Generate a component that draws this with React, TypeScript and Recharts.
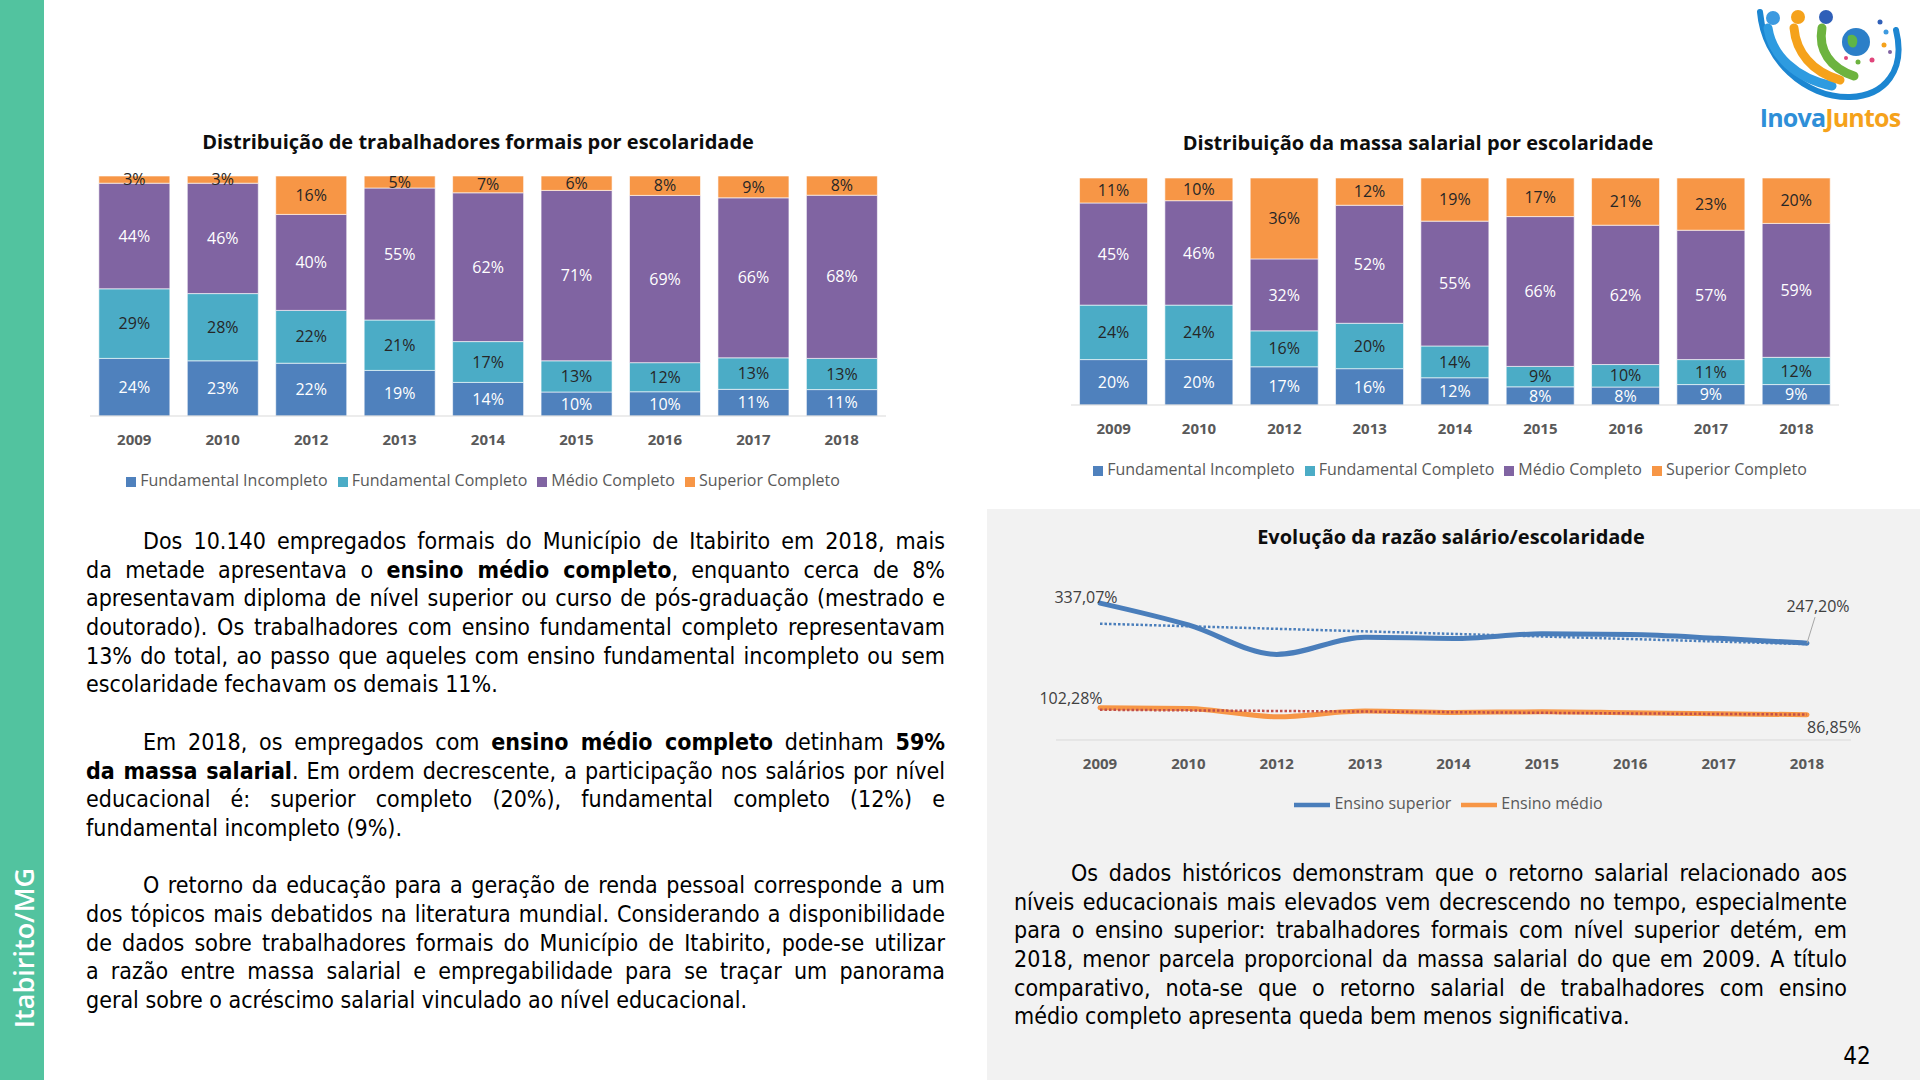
import React from 'react';
import {
    BarChart, Bar, LineChart, Line, XAxis, YAxis, Legend, LabelList, ReferenceLine,
} from 'recharts';

// anos das três séries
const YEARS = ['2009', '2010', '2012', '2013', '2014', '2015', '2016', '2017', '2018'];

// trabalhadores formais por escolaridade (%)
const WORKERS_FUND_INC = [24, 23, 22, 19, 14, 10, 10, 11, 11];
const WORKERS_FUND_COMP = [29, 28, 22, 21, 17, 13, 12, 13, 13];
const WORKERS_MEDIO = [44, 46, 40, 55, 62, 71, 69, 66, 68];
const WORKERS_SUPERIOR = [3, 3, 16, 5, 7, 6, 8, 9, 8];

// massa salarial por escolaridade (%)
const WAGES_FUND_INC = [20, 20, 17, 16, 12, 8, 8, 9, 9];
const WAGES_FUND_COMP = [24, 24, 16, 20, 14, 9, 10, 11, 12];
const WAGES_MEDIO = [45, 46, 32, 52, 55, 66, 62, 57, 59];
const WAGES_SUPERIOR = [11, 10, 36, 12, 19, 17, 21, 23, 20];

// razão salário/escolaridade (%)
const RATIO_SUPERIOR = [337.07, 288, 222, 260.6, 257.7, 268, 266.6, 258, 247.2];
const RATIO_MEDIO = [102.28, 100.8, 82.1, 94.8, 91.8, 93.3, 91, 88.8, 86.85];

// linhas de tendência (início 2009, fim 2018)
const TREND_SUPERIOR = [290.8, 245];
const TREND_MEDIO = [97.8, 87.0];

const SERIES = [
    { key: 'fundInc', name: 'Fundamental Incompleto', color: '#4F81BD', label: '#FFFFFF' },
    { key: 'fundComp', name: 'Fundamental Completo', color: '#4BACC6', label: '#262626' },
    { key: 'medio', name: 'Médio Completo', color: '#8064A2', label: '#FFFFFF' },
    { key: 'superior', name: 'Superior Completo', color: '#F79646', label: '#262626' },
];

const LINE_ORDER = ['Ensino superior', 'Ensino médio'];

const workersData = YEARS.map((year, i) => ({
    year,
    fundInc: WORKERS_FUND_INC[i],
    fundComp: WORKERS_FUND_COMP[i],
    medio: WORKERS_MEDIO[i],
    superior: WORKERS_SUPERIOR[i],
}));

const wagesData = YEARS.map((year, i) => ({
    year,
    fundInc: WAGES_FUND_INC[i],
    fundComp: WAGES_FUND_COMP[i],
    medio: WAGES_MEDIO[i],
    superior: WAGES_SUPERIOR[i],
}));

const ratioData = YEARS.map((year, i) => ({
    year,
    superior: RATIO_SUPERIOR[i],
    medio: RATIO_MEDIO[i],
}));

const CHART_FONT = '"Open Sans", sans-serif';
const BODY_FONT = '"DejaVu Sans Condensed", "DejaVu Sans", sans-serif';
const AXIS_TICK = { fontSize: 15, fontWeight: 700, fill: '#595959', fontFamily: CHART_FONT };

const legendText = (value: string) => <span style={{ color: '#595959' }}>{value}</span>;
const barOrder = (item: any) => SERIES.findIndex((s) => s.name === item.value);
const lineOrder = (item: any) => LINE_ORDER.indexOf(item.value);

interface StackProps {
    data: any[];
    left: number;
    top: number;
    width: number;
    height: number;
    margin: { top: number; right: number; bottom: number; left: number };
}

const StackedShare: React.FC<StackProps> = ({ data, left, top, width, height, margin }) => (
    <div style={{ position: 'absolute', left, top }}>
        <BarChart width={width} height={height} data={data} margin={margin} stackOffset="expand" barCategoryGap="10%">
            <XAxis
                dataKey="year"
                interval={0}
                tickLine={false}
                tickSize={0}
                tickMargin={18}
                height={52}
                axisLine={{ stroke: '#D9D9D9' }}
                tick={AXIS_TICK}
            />
            <YAxis hide domain={[0, 1]} />
            <Legend
                verticalAlign="bottom"
                iconType="square"
                iconSize={10}
                itemSorter={barOrder}
                formatter={legendText}
                wrapperStyle={{ fontSize: 16, lineHeight: '24px', fontFamily: CHART_FONT }}
            />
            {SERIES.map((s) => (
                <Bar key={s.key} dataKey={s.key} name={s.name} stackId="a" fill={s.color} stroke="#FFFFFF" strokeWidth={0.6} isAnimationActive={false}>
                    <LabelList
                        dataKey={s.key}
                        position="center"
                        fill={s.label}
                        fontSize={16}
                        fontFamily={CHART_FONT}
                        formatter={(v: any) => `${v}%`}
                    />
                </Bar>
            ))}
        </BarChart>
    </div>
);

const fmtPct = (v: number) => `${v.toFixed(2).replace('.', ',')}%`;

// rótulo só no primeiro e no último ponto
const edgeLabel = (values: number[], first: number[], last: number[], leader?: number[]) => (props: any) => {
    const { index } = props;
    const vb = props.viewBox || {};
    const x = props.x ?? vb.x;
    const y = props.y ?? vb.y;
    if (index !== 0 && index !== values.length - 1) return null;
    const o = index === 0 ? first : last;
    return (
        <g>
            {index !== 0 && leader && (
                <line x1={x + leader[0]} y1={y + leader[1]} x2={x} y2={y} stroke="#A6A6A6" strokeWidth={1} />
            )}
            <text x={x + o[0]} y={y + o[1]} textAnchor="middle" fontSize={16} fill="#404040" fontFamily={CHART_FONT}>
                {fmtPct(values[index])}
            </text>
        </g>
    );
};

const RatioChart: React.FC = () => (
    <div style={{ position: 'absolute', left: 1000, top: 560 }}>
        <LineChart width={906} height={270} data={ratioData} margin={{ top: 15, right: 55, left: 56, bottom: 7 }}>
            <XAxis
                dataKey="year"
                interval={0}
                tickLine={false}
                tickSize={0}
                tickMargin={18}
                height={47}
                padding={{ left: 44, right: 44 }}
                axisLine={{ stroke: '#D9D9D9' }}
                tick={AXIS_TICK}
            />
            <YAxis hide domain={[30, 400]} />
            <Legend
                verticalAlign="bottom"
                iconType="plainline"
                iconSize={36}
                itemSorter={lineOrder}
                formatter={legendText}
                wrapperStyle={{ fontSize: 16, fontFamily: CHART_FONT }}
            />
            <Line
                type="monotone"
                dataKey="superior"
                name="Ensino superior"
                stroke="#4A7EBB"
                strokeWidth={5}
                strokeLinecap="round"
                dot={false}
                isAnimationActive={false}
            >
                <LabelList dataKey="superior" content={edgeLabel(RATIO_SUPERIOR, [-14, 0], [11, -31], [8, -26])} />
            </Line>
            <Line
                type="monotone"
                dataKey="medio"
                name="Ensino médio"
                stroke="#F79646"
                strokeWidth={5}
                strokeLinecap="round"
                dot={false}
                isAnimationActive={false}
            >
                <LabelList dataKey="medio" content={edgeLabel(RATIO_MEDIO, [-29, -4], [27, 18])} />
            </Line>
            <ReferenceLine
                segment={[{ x: YEARS[0], y: TREND_SUPERIOR[0] }, { x: YEARS[YEARS.length - 1], y: TREND_SUPERIOR[1] }]}
                stroke="#4A7EBB"
                strokeWidth={2.5}
                strokeDasharray="2.5 2"
            />
            <ReferenceLine
                segment={[{ x: YEARS[0], y: TREND_MEDIO[0] }, { x: YEARS[YEARS.length - 1], y: TREND_MEDIO[1] }]}
                stroke="#C0504D"
                strokeWidth={2.5}
                strokeDasharray="2.5 2"
            />
        </LineChart>
    </div>
);

const LINE_H = 28.7;

const TextLine: React.FC<{ indent?: boolean; last?: boolean; children: React.ReactNode }> = ({ indent, last, children }) => (
    <div
        style={{
            whiteSpace: 'nowrap',
            textAlign: last ? 'left' : 'justify',
            textAlignLast: last ? 'left' : 'justify',
            textIndent: indent ? 57 : 0,
            height: LINE_H,
        }}
    >
        {children}
    </div>
);

const Gap = () => <div style={{ height: LINE_H }} />;

const Title: React.FC<{ x: number; y: number; children: React.ReactNode }> = ({ x, y, children }) => (
    <div
        style={{
            position: 'absolute',
            left: x,
            top: y,
            transform: 'translate(-50%, -50%)',
            whiteSpace: 'nowrap',
            fontFamily: CHART_FONT,
            fontWeight: 700,
            fontSize: 20,
            color: '#0D0D0D',
        }}
    >
        {children}
    </div>
);

const Logo: React.FC = () => (
    <div style={{ position: 'absolute', left: 1750, top: 0, width: 170, height: 130 }}>
        <svg width={170} height={104}>
            <path d="M10 12 C 14 60, 55 98, 100 97 C 135 96, 156 70, 146 30" stroke="#1C86D1" strokeWidth={6} fill="none" strokeLinecap="round" />
            <path d="M18 28 C 22 55, 45 78, 82 86" stroke="#2E9BE0" strokeWidth={9} fill="none" strokeLinecap="round" />
            <path d="M44 28 C 46 52, 62 72, 90 80" stroke="#F5A21B" strokeWidth={9} fill="none" strokeLinecap="round" />
            <path d="M72 28 C 68 50, 80 68, 104 76" stroke="#6DB33F" strokeWidth={9} fill="none" strokeLinecap="round" />
            <circle cx={23} cy={18} r={7} fill="#3D9AE0" />
            <circle cx={48} cy={17} r={7} fill="#F5A21B" />
            <circle cx={76} cy={17} r={7} fill="#2F5FB8" />
            <circle cx={106} cy={42} r={14} fill="#2C7FC8" />
            <path d="M98 36 C 104 32, 110 38, 106 46 C 102 50, 96 46, 98 36 Z" fill="#5FB548" />
            <circle cx={130} cy={22} r={2.5} fill="#2F5FB8" />
            <circle cx={136} cy={32} r={2.5} fill="#3D9AE0" />
            <circle cx={134} cy={45} r={2.5} fill="#F5A21B" />
            <circle cx={122} cy={60} r={2.5} fill="#E0457B" />
            <circle cx={108} cy={62} r={2.5} fill="#6DB33F" />
            <circle cx={96} cy={58} r={2} fill="#E0457B" />
            <circle cx={140} cy={52} r={2} fill="#8064A2" />
        </svg>
        <div
            style={{
                position: 'absolute',
                left: 0,
                top: 102,
                width: 160,
                textAlign: 'center',
                fontFamily: CHART_FONT,
                fontWeight: 700,
                fontSize: 25,
                letterSpacing: -0.8,
                lineHeight: '30px',
            }}
        >
            <span style={{ color: '#2E8FD8' }}>Inova</span>
            <span style={{ color: '#F5A21B' }}>Juntos</span>
        </div>
    </div>
);

export default function App() {
    return (
        <div
            style={{
                position: 'absolute',
                left: 0,
                top: 0,
                width: 1920,
                height: 1080,
                background: '#FFFFFF',
                overflow: 'hidden',
                fontFamily: CHART_FONT,
            }}
        >
            <div style={{ position: 'absolute', left: 987, top: 509, width: 933, height: 571, background: '#F2F2F2' }} />
            <div style={{ position: 'absolute', left: 0, top: 0, width: 44, height: 1080, background: '#52C39F' }} />
            <div
                style={{
                    position: 'absolute',
                    left: 23,
                    top: 948,
                    transform: 'translate(-50%, -50%) rotate(-90deg)',
                    whiteSpace: 'nowrap',
                    color: '#FFFFFF',
                    fontFamily: CHART_FONT,
                    fontWeight: 600,
                    fontSize: 27,
                }}
            >
                Itabirito/MG
            </div>

            <Logo />

            <Title x={478} y={141}>Distribuição de trabalhadores formais por escolaridade</Title>
            <StackedShare
                data={workersData}
                left={60}
                top={160}
                width={860}
                height={340}
                margin={{ top: 16, right: 34, left: 30, bottom: 8 }}
            />

            <Title x={1418} y={142}>Distribuição da massa salarial por escolaridade</Title>
            <StackedShare
                data={wagesData}
                left={1000}
                top={160}
                width={910}
                height={330}
                margin={{ top: 18, right: 71, left: 71, bottom: 9 }}
            />

            <Title x={1451} y={536}>Evolução da razão salário/escolaridade</Title>
            <RatioChart />

            <div
                style={{
                    position: 'absolute',
                    left: 86,
                    top: 527,
                    width: 859,
                    fontFamily: BODY_FONT,
                    fontSize: 23,
                    lineHeight: `${LINE_H}px`,
                    color: '#000000',
                }}
            >
                <TextLine indent>Dos 10.140 empregados formais do Município de Itabirito em 2018, mais</TextLine>
                <TextLine>da metade apresentava o <b>ensino médio completo</b>, enquanto cerca de 8%</TextLine>
                <TextLine>apresentavam diploma de nível superior ou curso de pós-graduação (mestrado e</TextLine>
                <TextLine>doutorado). Os trabalhadores com ensino fundamental completo representavam</TextLine>
                <TextLine>13% do total, ao passo que aqueles com ensino fundamental incompleto ou sem</TextLine>
                <TextLine last>escolaridade fechavam os demais 11%.</TextLine>
                <Gap />
                <TextLine indent>Em 2018, os empregados com <b>ensino médio completo</b> detinham <b>59%</b></TextLine>
                <TextLine><b>da massa salarial</b>. Em ordem decrescente, a participação nos salários por nível</TextLine>
                <TextLine>educacional é: superior completo (20%), fundamental completo (12%) e</TextLine>
                <TextLine last>fundamental incompleto (9%).</TextLine>
                <Gap />
                <TextLine indent>O retorno da educação para a geração de renda pessoal corresponde a um</TextLine>
                <TextLine>dos tópicos mais debatidos na literatura mundial. Considerando a disponibilidade</TextLine>
                <TextLine>de dados sobre trabalhadores formais do Município de Itabirito, pode-se utilizar</TextLine>
                <TextLine>a razão entre massa salarial e empregabilidade para se traçar um panorama</TextLine>
                <TextLine last>geral sobre o acréscimo salarial vinculado ao nível educacional.</TextLine>
            </div>

            <div
                style={{
                    position: 'absolute',
                    left: 1014,
                    top: 859,
                    width: 833,
                    fontFamily: BODY_FONT,
                    fontSize: 23,
                    lineHeight: `${LINE_H}px`,
                    color: '#000000',
                }}
            >
                <TextLine indent>Os dados históricos demonstram que o retorno salarial relacionado aos</TextLine>
                <TextLine>níveis educacionais mais elevados vem decrescendo no tempo, especialmente</TextLine>
                <TextLine>para o ensino superior: trabalhadores formais com nível superior detém, em</TextLine>
                <TextLine>2018, menor parcela proporcional da massa salarial do que em 2009. A título</TextLine>
                <TextLine>comparativo, nota-se que o retorno salarial de trabalhadores com ensino</TextLine>
                <TextLine last>médio completo apresenta queda bem menos significativa.</TextLine>
            </div>

            <div
                style={{
                    position: 'absolute',
                    left: 1857,
                    top: 1056,
                    transform: 'translate(-50%, -50%)',
                    fontFamily: BODY_FONT,
                    fontSize: 24,
                    color: '#000000',
                }}
            >
                42
            </div>
        </div>
    );
}
